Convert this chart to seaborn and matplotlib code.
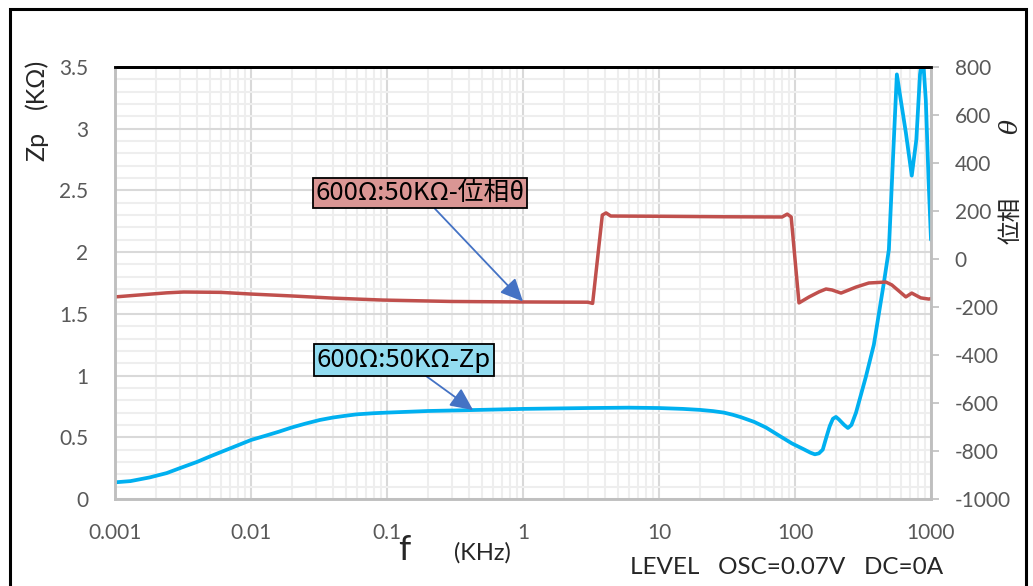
import numpy as np
import pandas as pd
import matplotlib
matplotlib.use("Agg")
import matplotlib.pyplot as plt
from matplotlib.patches import Rectangle
from matplotlib.ticker import MultipleLocator, LogLocator, NullFormatter
import seaborn as sns

# ---------------- data ----------------
zp_freq = [0.001, 0.0013, 0.0018, 0.0024, 0.003, 0.004, 0.005, 0.006, 0.008, 0.01,
           0.013, 0.016, 0.02, 0.025, 0.032, 0.04, 0.05, 0.06, 0.08, 0.1,
           0.2, 0.4, 1, 3, 6, 10, 15, 20, 25, 30, 35, 40, 50, 61, 80, 95, 115,
           130, 140, 150, 160, 170, 180, 190, 200, 210, 230, 245, 260, 281,
           332, 380, 450, 490, 530, 561, 600, 653, 722, 780, 830, 870, 916, 960, 1000]
zp_vals = [0.135, 0.145, 0.175, 0.21, 0.25, 0.30, 0.345, 0.38, 0.435, 0.478,
           0.515, 0.545, 0.58, 0.61, 0.64, 0.66, 0.675, 0.686, 0.695, 0.70,
           0.713, 0.72, 0.73, 0.737, 0.74, 0.737, 0.73, 0.722, 0.712, 0.70, 0.682, 0.663, 0.625, 0.58, 0.50, 0.45, 0.405,
           0.375, 0.362, 0.37, 0.40, 0.50, 0.59, 0.65, 0.665, 0.645, 0.60, 0.575, 0.60, 0.70,
           0.99, 1.25, 1.75, 2.02, 2.85, 3.44, 3.23, 2.97, 2.62, 2.91, 3.44, 3.6, 3.23, 2.58, 2.1]

th_freq = [0.001, 0.0015, 0.0024, 0.0032, 0.006, 0.01, 0.02, 0.04, 0.092, 0.3,
           1, 3.0, 3.25, 3.83, 4.08, 4.42, 10, 30, 80.3, 87.7, 93.7, 107,
           127, 150, 169, 187, 218, 281, 349, 466, 515, 653, 722, 841, 964, 1000]
th_vals = [-158, -150, -141, -137.5, -139, -146, -154, -163, -171, -177,
           -179, -180, -185, 183, 192, 179, 178, 176, 175, 187, 175, -183,
           -158, -137, -125, -129, -142, -117, -100, -96, -108, -158, -142, -162, -167, -165]

x_ticks = [0.001, 0.01, 0.1, 1, 10, 100, 1000]
x_labels = ["0.001", "0.01", "0.1", "1", "10", "100", "1000"]
zp_ticks = [0, 0.5, 1, 1.5, 2, 2.5, 3, 3.5]
zp_labels = ["0", "0.5", "1", "1.5", "2", "2.5", "3", "3.5"]
th_ticks = [-1000, -800, -600, -400, -200, 0, 200, 400, 600, 800]
th_labels = ["-1000", "-800", "-600", "-400", "-200", "0", "200", "400", "600", "800"]

label_theta = "600Ω:50KΩ-位相θ"
label_zp = "600Ω:50KΩ-Zp"

# ---------------- style ----------------
sns.set_style("white")
FONTS = ["Lato", "Noto Sans CJK JP", "DejaVu Sans"]
CJK = ["Noto Sans CJK JP", "DejaVu Sans"]
plt.rcParams["font.family"] = FONTS

W, H = 1033, 586
fig = plt.figure(figsize=(W / 100, H / 100), dpi=100)


def fx(x):
    return x / W


def fy(y):
    return 1 - y / H


ax = fig.add_axes([fx(115), fy(499), fx(931) - fx(115), fy(67) - fy(499)])
ax2 = ax.twinx()

RED = "#C0504D"
BLUE = "#00B0F0"
TICKC = "#595959"

df_zp = pd.DataFrame({"f": zp_freq, "zp": zp_vals})
df_th = pd.DataFrame({"f": th_freq, "th": th_vals})

sns.lineplot(data=df_zp, x="f", y="zp", ax=ax, color=BLUE, linewidth=2.7,
             estimator=None, sort=False)
sns.lineplot(data=df_th, x="f", y="th", ax=ax2, color=RED, linewidth=2.5,
             estimator=None, sort=False)
for a in (ax, ax2):
    for ln in a.get_lines():
        ln.set_solid_joinstyle("round")
        ln.set_solid_capstyle("round")

ax.set_xscale("log")
ax.set_xlim(0.001, 1000)
ax.set_ylim(0, 3.5)
ax2.set_ylim(-1000, 800)

ax.set_xticks(x_ticks)
ax.set_xticklabels(x_labels)
ax.xaxis.set_minor_locator(LogLocator(base=10, subs=np.arange(2, 10)))
ax.xaxis.set_minor_formatter(NullFormatter())
ax.set_yticks(zp_ticks)
ax.set_yticklabels(zp_labels)
ax.yaxis.set_minor_locator(MultipleLocator(0.1))
ax2.set_yticks(th_ticks)
ax2.set_yticklabels(th_labels)

ax.grid(which="major", color="#D9D9D9", linewidth=1.5)
ax.grid(which="minor", color="#EEEEEE", linewidth=1.5)
ax.set_axisbelow(True)

ax.tick_params(axis="x", which="both", length=0, pad=17, labelsize=15, labelcolor=TICKC)
ax.tick_params(axis="y", which="both", length=0, pad=19, labelsize=15, labelcolor=TICKC)
ax2.tick_params(axis="y", which="major", length=6, width=1.2, color="#BFBFBF",
                direction="out", pad=11, labelsize=15, labelcolor=TICKC)
ax2.tick_params(axis="y", which="minor", length=0)

for a in (ax, ax2):
    a.set_xlabel("")
    a.set_ylabel("")
    for s in ("left", "right", "bottom"):
        a.spines[s].set_color("#BFBFBF")
        a.spines[s].set_linewidth(1.8)
    a.spines["top"].set_color("black")
    a.spines["top"].set_linewidth(2.0)

# ---------------- annotations ----------------
ARROW = dict(arrowstyle="-|>,head_length=0.75,head_width=0.35",
             color="#4472C4", lw=1.3, shrinkA=0, shrinkB=0)

ax2.annotate(label_theta, xy=(1.0, -177), xycoords="data",
             xytext=(420, H - 193), textcoords="figure pixels",
             ha="center", va="center", fontsize=18.5, color="black", zorder=10,
             fontfamily=CJK,
             bbox=dict(boxstyle="square,pad=0.08", fc="#DA9694", ec="black", lw=1.3),
             arrowprops=ARROW)

ax2.annotate(label_zp, xy=(0.43, 0.72), xycoords=ax.transData,
             xytext=(404, H - 360), textcoords="figure pixels",
             ha="center", va="center", fontsize=18.5, color="black", zorder=10,
             fontfamily=CJK,
             bbox=dict(boxstyle="square,pad=0.1", fc="#92DCF0", ec="black", lw=1.3),
             arrowprops=ARROW)

# ---------------- axis titles / notes ----------------
fig.text(fx(37), fy(146), "Zp", rotation=90, ha="center", va="center", fontsize=18)
fig.text(fx(37), fy(84), "(KΩ)", rotation=90, ha="center", va="center", fontsize=18)
fig.text(fx(1011), fy(220), "位相", rotation=90, ha="center", va="center", fontsize=17,
         fontfamily=CJK)
fig.text(fx(1011), fy(127), "θ", rotation=90, ha="center", va="center", fontsize=18,
         style="italic", fontfamily=["DejaVu Serif", "DejaVu Sans"])
fig.text(fx(404), fy(550), "f", ha="center", va="center", fontsize=25)
fig.text(fx(482), fy(553), "(KHz)", ha="center", va="center", fontsize=17)
fig.text(fx(630), fy(568), "LEVEL   OSC=0.07V   DC=0A", ha="left", va="center", fontsize=17.5)

# outer frame
fig.add_artist(Rectangle((fx(10), -0.05), fx(1026) - fx(10), fy(9) + 0.05,
                         transform=fig.transFigure, fill=False, ec="black", lw=2.2))

fig.savefig("out.png", dpi=100)
